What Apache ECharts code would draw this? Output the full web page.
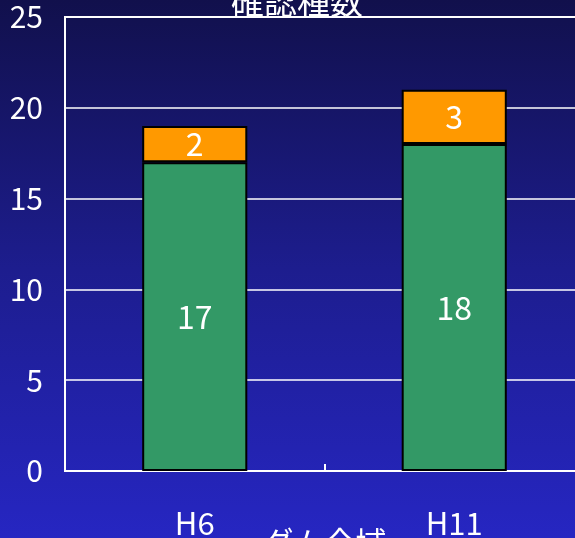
<!DOCTYPE html>
<html>
<head>
<meta charset="utf-8">
<script src="https://cdn.jsdelivr.net/npm/echarts@6/dist/echarts.min.js"></script>
<style>
html,body{margin:0;padding:0;overflow:hidden;}
#chart{width:575px;height:538px;}
</style>
</head>
<body>
<div id="chart"></div>
<script>
const categories = ['H6', 'H11'];
const greenValues = [17, 18];
const orangeValues = [2, 3];
const yTicks = [0, 5, 10, 15, 20, 25];
const titleText = '確認種数';
const axisName = 'ダム全域';

const narrow = '"Noto Sans CJK JP", sans-serif';
const cjk = '"Noto Sans CJK JP", sans-serif';

const chart = echarts.init(document.getElementById('chart'));
chart.setOption({
  backgroundColor: {
    type: 'linear', x: 0, y: 0, x2: 0, y2: 1,
    colorStops: [
      {offset: 0, color: '#11104c'},
      {offset: 0.5, color: '#1d1d8e'},
      {offset: 1, color: '#2626c2'}
    ]
  },
  animation: false,
  title: {
    text: titleText,
    left: 231,
    top: -15,
    padding: 0,
    textStyle: {color: '#ffffff', fontFamily: cjk, fontSize: 33, fontWeight: 'normal'}
  },
  grid: {
    left: 65, top: 17, right: -9, bottom: 67,
    outerBoundsMode: 'none',
    containLabel: false,
    show: true, borderColor: '#ffffff', borderWidth: 2, backgroundColor: 'transparent'
  },
  xAxis: {
    type: 'category',
    data: categories,
    name: axisName,
    nameLocation: 'middle',
    nameGap: 56,
    nameMoveOverlap: false,
    nameTextStyle: {color: '#ffffff', fontFamily: cjk, fontSize: 31},
    axisLine: {lineStyle: {color: '#ffffff', width: 2}},
    axisTick: {show: true, inside: true, length: 7, lineStyle: {color: '#ffffff', width: 2}},
    axisLabel: {color: '#ffffff', fontFamily: narrow, fontSize: 31, margin: 37}
  },
  yAxis: {
    type: 'value',
    min: yTicks[0],
    max: yTicks[yTicks.length - 1],
    interval: 5,
    axisLine: {show: true, lineStyle: {color: '#ffffff', width: 2}},
    axisTick: {show: false},
    splitLine: {lineStyle: {color: '#ffffff', width: 1.5}},
    axisLabel: {color: '#ffffff', fontFamily: narrow, fontSize: 30, margin: 22}
  },
  series: [
    {
      type: 'bar', stack: 'a', data: greenValues, barWidth: '40.5%',
      itemStyle: {color: '#339966', borderColor: '#000000', borderWidth: 2},
      label: {show: true, position: 'inside', color: '#ffffff', fontFamily: narrow, fontSize: 32}
    },
    {
      type: 'bar', stack: 'a', data: orangeValues, barWidth: '40.5%',
      itemStyle: {color: '#ff9900', borderColor: '#000000', borderWidth: 2},
      label: {show: true, position: 'inside', color: '#ffffff', fontFamily: narrow, fontSize: 32}
    }
  ]
});
</script>
</body>
</html>
